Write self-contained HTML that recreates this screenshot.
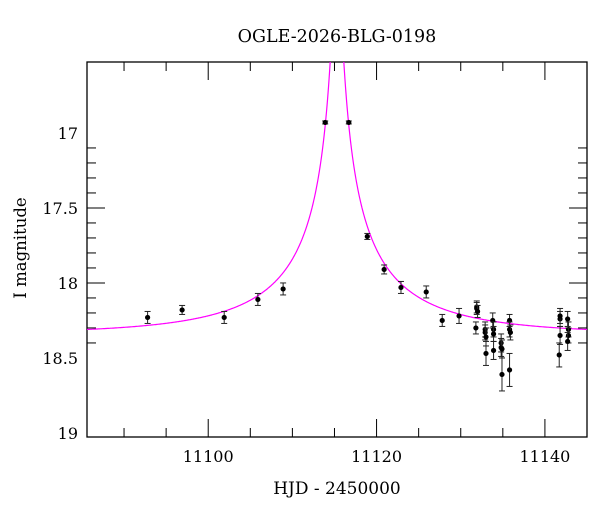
<!DOCTYPE html>
<html><head><meta charset="utf-8"><style>
body{margin:0;background:#fff;}
svg{display:block;font-family:"DejaVu Serif","Liberation Serif",serif;}
</style></head><body>
<svg id="chart" width="600" height="512">
<text x="337" y="42" text-anchor="middle" font-size="17.5">OGLE-2026-BLG-0198</text>
<text x="337" y="494" text-anchor="middle" font-size="17">HJD - 2450000</text>
<text transform="translate(26,248) rotate(-90)" text-anchor="middle" font-size="16.5">I magnitude</text>
<g id="axes"></g>
<g id="marks"></g>
</svg>
<script>
const days=[11092.8,11096.9,11101.9,11105.9,11108.9,11113.9,11116.7,11118.9,11120.9,11122.9,11125.9,11127.8,11129.8,11131.9,11131.9,11132.0,11131.8,11132.9,11132.9,11133.0,11133.0,11133.8,11133.9,11133.9,11133.9,11134.8,11134.8,11134.9,11134.9,11135.8,11135.8,11135.9,11135.8,11141.8,11141.8,11141.8,11141.7,11142.7,11142.8,11142.8,11142.7];
const mags=[18.23,18.18,18.23,18.11,18.04,16.93,16.93,17.69,17.91,18.03,18.06,18.25,18.22,18.16,18.17,18.19,18.30,18.31,18.33,18.36,18.47,18.25,18.31,18.34,18.45,18.40,18.43,18.44,18.61,18.25,18.31,18.33,18.58,18.24,18.22,18.35,18.48,18.24,18.31,18.35,18.39];
const errs=[0.04,0.03,0.04,0.04,0.04,0.01,0.01,0.02,0.03,0.04,0.04,0.04,0.05,0.04,0.04,0.04,0.04,0.05,0.05,0.06,0.08,0.05,0.05,0.05,0.06,0.06,0.06,0.06,0.11,0.04,0.05,0.05,0.11,0.05,0.05,0.06,0.08,0.05,0.05,0.05,0.06];
const xTicks=[11100,11120,11140];
const yTicks=[17,17.5,18,18.5,19];
const model={t0:11115.3,tE:20,u0:0.02,fs:0.204,base:18.34};
const X0=87,X1=587,Y0=62,Y1=437,D0=11085.6,D1=11145,M0=16.527,M1=19.027;
const sx=d=>X0+(d-D0)/(D1-D0)*(X1-X0);
const sy=m=>Y0+(m-M0)/(M1-M0)*(Y1-Y0);
const NS="http://www.w3.org/2000/svg";
function mk(tag,attrs,parent){const e=document.createElementNS(NS,tag);for(const k in attrs)e.setAttribute(k,attrs[k]);parent.appendChild(e);return e;}
const ax=document.getElementById('axes'),mg=document.getElementById('marks');
const frame=mk('rect',{x:X0,y:Y0,width:X1-X0,height:Y1-Y0,fill:'none',stroke:'#000','stroke-width':1.3},ax);


for(let d=11090;d<=D1;d+=5){const maj=d%20===0;const L=maj?18:9;
mk('line',{x1:sx(d),x2:sx(d),y1:Y1,y2:Y1-L,stroke:'#000','stroke-width':1},ax);
mk('line',{x1:sx(d),x2:sx(d),y1:Y0,y2:Y0+L,stroke:'#000','stroke-width':1},ax);}
for(let i=6;i<=19;i++){const m=16.5+i*0.1;const maj=Math.abs(m*2-Math.round(m*2))<1e-6;const L=maj?18:9;
mk('line',{x1:X0,x2:X0+L,y1:sy(m),y2:sy(m),stroke:'#000','stroke-width':1},ax);
mk('line',{x1:X1,x2:X1-L,y1:sy(m),y2:sy(m),stroke:'#000','stroke-width':1},ax);}
xTicks.forEach(t=>{const e=mk('text',{x:sx(t),y:Y1+25,'text-anchor':'middle','font-size':16},ax);e.textContent=t;

});
yTicks.forEach(t=>{const e=mk('text',{x:X0-9,y:sy(t)+6,'text-anchor':'end','font-size':16},ax);e.textContent=t;

});
let pts=[];for(let px=X0;px<=X1;px+=0.5){const d=D0+(px-X0)/(X1-X0)*(D1-D0);const u=Math.sqrt(model.u0**2+((d-model.t0)/model.tE)**2);const A=(u*u+2)/(u*Math.sqrt(u*u+4));const m=model.base-2.5*Math.log10(1+model.fs*(A-1));pts.push(px.toFixed(1)+','+sy(Math.max(m,M0-0.05)).toFixed(1));}
const cp=document.createElementNS(NS,'clipPath');cp.id='clip';mk('rect',{x:X0,y:Y0,width:X1-X0,height:Y1-Y0},cp);document.getElementById('chart').appendChild(cp);
const curve=mk('polyline',{points:pts.join(' '),fill:'none',stroke:'#ff00ff','stroke-width':1.2,'clip-path':'url(#clip)'},mg);


days.forEach((d,i)=>{const x=sx(d),y=sy(mags[i]),y1=sy(mags[i]-errs[i]),y2=sy(mags[i]+errs[i]);
const g=mk('g',{},mg);


mk('line',{x1:x,x2:x,y1:y1,y2:y2,stroke:'#222','stroke-width':1},g);
mk('line',{x1:x-3,x2:x+3,y1:y1,y2:y1,stroke:'#222','stroke-width':1},g);
mk('line',{x1:x-3,x2:x+3,y1:y2,y2:y2,stroke:'#222','stroke-width':1},g);
mk('circle',{cx:x,cy:y,r:2.6,fill:'#000'},g);});
</script>
</body></html>
